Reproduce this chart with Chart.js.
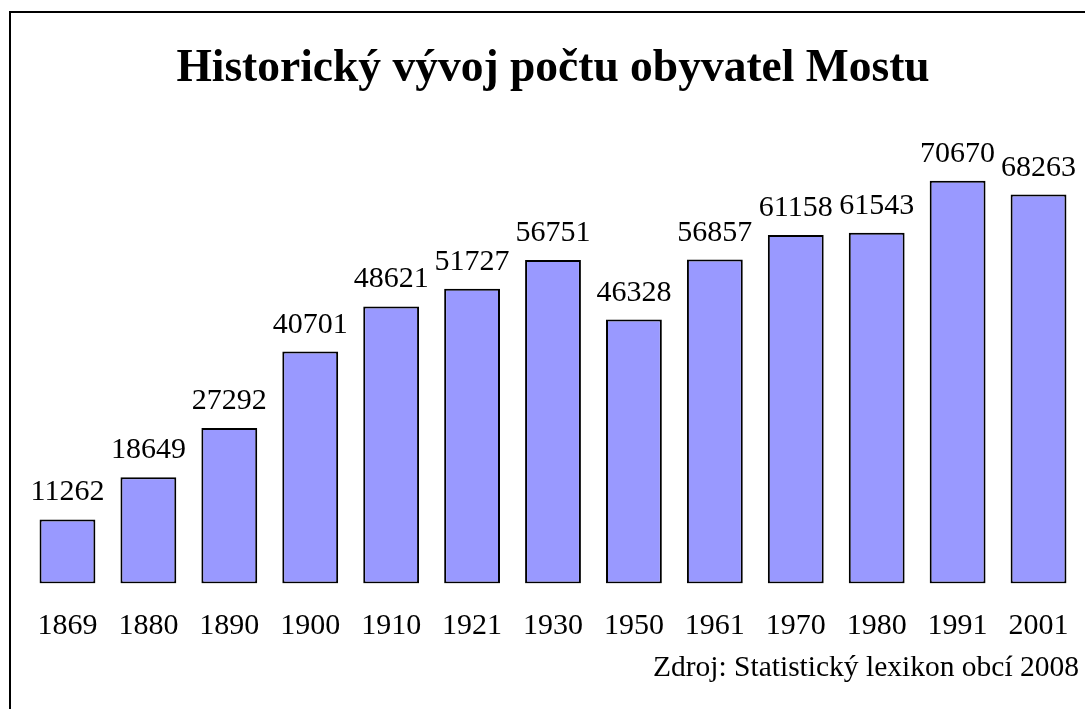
<!DOCTYPE html>
<html>
<head>
<meta charset="utf-8">
<script src="https://cdn.jsdelivr.net/npm/chart.js@4"></script>
<style>
  html, body { margin: 0; padding: 0; background: #fff; overflow: hidden; }
  #box { position: absolute; left: 9px; top: 11px; width: 1090px; height: 712px;
         border: 2px solid #000; box-sizing: border-box; overflow: hidden; }
  #box canvas { display: block; margin-left: -2px; }
</style>
</head>
<body>
<div id="box"><canvas id="chart" width="1088" height="708"></canvas></div>
<script>
// population of Most, per census year
var years = ['1869','1880','1890','1900','1910','1921','1930','1950','1961','1970','1980','1991','2001'];
var people = [11262, 18649, 27292, 40701, 48621, 51727, 56751, 46328, 56857, 61158, 61543, 70670, 68263];

var titleText = 'Historický vývoj počtu obyvatel Mostu';
var sourceText = 'Zdroj: Statistický lexikon obcí 2008';

var serif = 'Liberation Serif';

// draws the number above every bar
var valueLabels = {
  id: 'valueLabels',
  afterDatasetsDraw: function(chart) {
    var ctx = chart.ctx;
    var meta = chart.getDatasetMeta(0);
    ctx.save();
    ctx.font = '30px "' + serif + '"';
    ctx.fillStyle = '#000';
    ctx.textAlign = 'center';
    ctx.textBaseline = 'alphabetic';
    meta.data.forEach(function(bar, i) {
      ctx.fillText(String(chart.data.datasets[0].data[i]), bar.x, bar.y - 19);
    });
    ctx.restore();
  }
};

new Chart(document.getElementById('chart'), {
  type: 'bar',
  data: {
    labels: years,
    datasets: [{
      data: people,
      backgroundColor: '#9999ff',
      borderColor: '#000',
      borderWidth: 2,
      borderSkipped: false,
      categoryPercentage: 1,
      barPercentage: 0.69
    }]
  },
  options: {
    responsive: false,
    animation: false,
    layout: { padding: { left: 18, right: 18, top: 29, bottom: 6 } },
    plugins: {
      legend: { display: false },
      tooltip: { enabled: false },
      title: {
        display: true,
        text: titleText,
        color: '#000',
        font: { family: serif, size: 45.5, weight: 'bold' },
        padding: { top: 0, bottom: 31 }
      },
      subtitle: {
        display: true,
        position: 'bottom',
        align: 'end',
        fullSize: false,
        text: sourceText,
        color: '#000',
        font: { family: serif, size: 29.5 },
        padding: { top: -19, bottom: 29 }
      }
    },
    scales: {
      x: {
        grid: { display: false, drawTicks: false },
        border: { display: false },
        ticks: { color: '#000', font: { family: serif, size: 30 }, padding: 25, maxRotation: 0 }
      },
      y: {
        display: false,
        min: 0,
        max: 80000
      }
    }
  },
  plugins: [valueLabels]
});
</script>
</body>
</html>
